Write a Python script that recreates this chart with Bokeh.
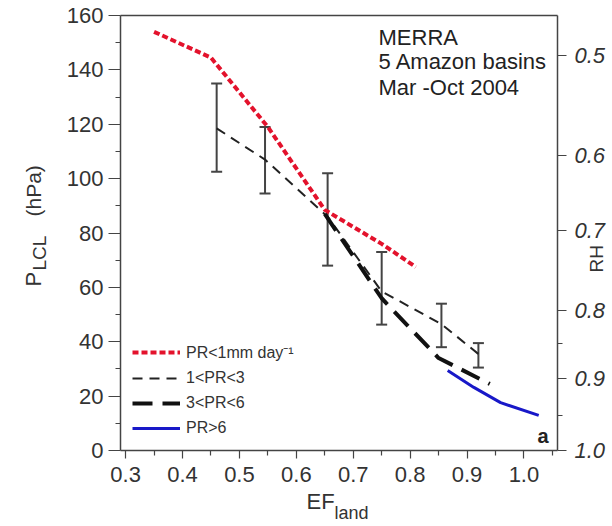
import math
from bokeh.plotting import figure
from bokeh.models import (ColumnDataSource, Whisker, TeeHead, LinearAxis, Range1d,
                          FixedTicker, Legend, LegendItem, Label, NumeralTickFormatter)
from bokeh.embed import file_html
from bokeh.resources import INLINE

# ---------------- data ----------------
red_x = [0.35, 0.45, 0.55, 0.65, 0.75, 0.81]          # PR<1mm day-1
red_y = [154, 144.5, 119, 88.5, 76, 67.5]

mid_x = [0.46, 0.545, 0.655, 0.75, 0.855, 0.92]       # 1<PR<3
mid_y = [118.5, 107, 86, 58.5, 46.5, 35.5]
mid_hi = [135, 119, 102, 73, 54, 39.5]
mid_lo = [102.5, 94.5, 68, 46.3, 38, 30.5]

high_x = [0.65, 0.75, 0.85, 0.94]                      # 3<PR<6
high_y = [87, 56, 34, 24.5]

vhigh_x = [0.866, 0.912, 0.959, 1.026]                 # PR>6
vhigh_y = [29.4, 23.2, 17.6, 12.9]

x_ticks = [0.3, 0.4, 0.5, 0.6, 0.7, 0.8, 0.9, 1.0]
x_minor = [0.35, 0.45, 0.55, 0.65, 0.75, 0.85, 0.95, 1.05]
y_ticks = [0, 20, 40, 60, 80, 100, 120, 140, 160]
y_minor = [10, 30, 50, 70, 90, 110, 130, 150]
rh_labels = ["0.5", "0.6", "0.7", "0.8", "0.9", "1.0"]
rh_pos = [145.2, 108.5, 80.9, 51.5, 26.5, 0.0]
rh_minor = [39.3, 12.9]

series_names = ["PR<1mm day\u207b\u00b9", "1<PR<3", "3<PR<6", "PR>6"]

# ---------------- layout ----------------
W, H = 612, 526
X0, X1 = 0.291, 1.059          # plot box data limits
Y0, Y1 = 0.0, 160.0
BOX_L, BOX_R, BOX_T, BOX_B = 120, 557, 15, 450   # plot box in page pixels
ux = (X1 - X0) / (BOX_R - BOX_L)
uy = (Y1 - Y0) / (BOX_B - BOX_T)
xr = Range1d(X0 - BOX_L * ux, X1 + (W - BOX_R) * ux)
yr = Range1d(Y0 - (H - BOX_B) * uy, Y1 + BOX_T * uy)

FONT = "Liberation Sans"
AX = "#444444"
TXT = "#333333"

p = figure(width=W, height=H, x_range=xr, y_range=yr,
           output_backend="svg", toolbar_location=None,
           min_border_left=0, min_border_right=0, min_border_top=0, min_border_bottom=0,
           x_axis_location=None, y_axis_location=None)
p.grid.visible = False
p.outline_line_color = None
p.background_fill_color = "white"
p.border_fill_color = "white"


def style_axis(ax, size="22px"):
    ax.major_tick_in = 0
    ax.minor_tick_in = 0
    ax.major_label_text_font = FONT
    ax.major_label_text_font_size = size
    ax.major_label_text_color = TXT
    ax.axis_line_color = AX
    ax.axis_line_width = 1.5
    ax.major_tick_line_color = AX
    ax.minor_tick_line_color = AX
    ax.major_tick_line_width = 1.2
    ax.minor_tick_line_width = 1.2


# bottom axis
xa = LinearAxis(ticker=FixedTicker(ticks=x_ticks, minor_ticks=x_minor),
                formatter=NumeralTickFormatter(format="0.0"),
                fixed_location=Y0, bounds=(X0, X1))
style_axis(xa)
xa.major_tick_out = 8
xa.minor_tick_out = 5
xa.major_label_standoff = 8
p.add_layout(xa, "below")

# top frame line
ta = LinearAxis(ticker=FixedTicker(ticks=[]), fixed_location=Y1, bounds=(X0, X1),
                major_label_text_alpha=0)
style_axis(ta)
p.add_layout(ta, "above")

# left axis
ya = LinearAxis(ticker=FixedTicker(ticks=y_ticks, minor_ticks=y_minor),
                fixed_location=X0, bounds=(Y0, Y1))
style_axis(ya)
ya.major_tick_out = 12
ya.minor_tick_out = 5
ya.major_label_standoff = 5
p.add_layout(ya, "left")

# right axis (RH)
p.extra_y_ranges = {"rh": Range1d(yr.start, yr.end)}
ra = LinearAxis(y_range_name="rh", fixed_location=X1, bounds=(Y0, Y1),
                ticker=FixedTicker(ticks=rh_pos, minor_ticks=rh_minor),
                major_label_overrides={pos: lab for pos, lab in zip(rh_pos, rh_labels)})
style_axis(ra)
ra.major_tick_out = 9
ra.minor_tick_out = 5
ra.major_label_standoff = 8
ra.major_label_text_font_style = "italic"
p.add_layout(ra, "right")

# series
r_red = p.line(red_x, red_y, line_color="#e3122c", line_width=4, line_dash="6 3")
r_mid = p.line(mid_x, mid_y, line_color="#222222", line_width=2, line_dash="10 7")
err_src = ColumnDataSource(dict(x=mid_x, hi=mid_hi, lo=mid_lo))
p.add_layout(Whisker(source=err_src, base="x", upper="hi", lower="lo",
                     line_color="#444444", line_width=2,
                     upper_head=TeeHead(size=11, line_color="#444444", line_width=2),
                     lower_head=TeeHead(size=11, line_color="#444444", line_width=2)))
r_high = p.line(high_x, high_y, line_color="#111111", line_width=4, line_dash="20 10")
r_blue = p.line(vhigh_x, vhigh_y, line_color="#1818c8", line_width=3)

legend = Legend(items=[LegendItem(label=series_names[0], renderers=[r_red]),
                       LegendItem(label=series_names[1], renderers=[r_mid]),
                       LegendItem(label=series_names[2], renderers=[r_high]),
                       LegendItem(label=series_names[3], renderers=[r_blue])],
                location=(132, H - 438), glyph_width=48, glyph_height=20, label_height=20,
                label_standoff=6, spacing=5, padding=0, margin=0,
                background_fill_alpha=0, border_line_alpha=0,
                label_text_font=FONT, label_text_font_size="16px", label_text_color=TXT)
p.add_layout(legend)


def lab(text, x, y, size, angle=0.0, style="normal", color=TXT):
    # x, y: page pixels from the top-left corner
    p.add_layout(Label(text=text, x=x, y=H - y, x_units="screen", y_units="screen",
                       angle=angle, text_font=FONT, text_font_size=size,
                       text_font_style=style, text_color=color,
                       text_align="left", text_baseline="alphabetic"))


# annotation block
lab("MERRA", 378, 37, "22px", color="#222222")
lab("5 Amazon basins", 378, 61, "22px", color="#222222")
lab("Mar -Oct 2004", 378, 87, "22px", color="#222222")
lab("a", 537, 435, "20px", style="bold", color="#222222")

# y-axis title P_LCL (hPa)
lab("P", 33, 286, "22px", angle=math.pi / 2)
lab("LCL", 39, 270, "19px", angle=math.pi / 2)
lab("(hPa)", 33, 216, "21px", angle=math.pi / 2)

# x-axis title EF_land
lab("EF", 306, 501, "22px")
lab("land", 334, 512, "18px")

# right axis title
lab("RH", 596, 272, "19px", angle=math.pi / 2)

open("out.html", "w").write(file_html(p, INLINE))
